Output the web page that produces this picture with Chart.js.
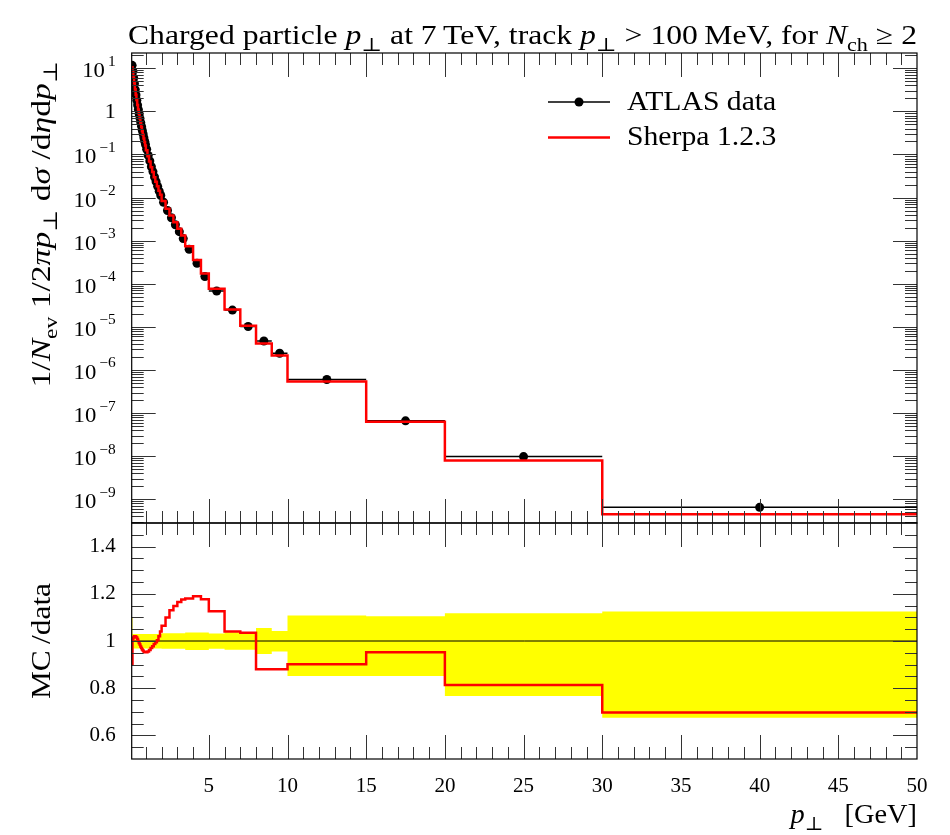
<!DOCTYPE html>
<html><head><meta charset="utf-8">
<script src="https://cdn.jsdelivr.net/npm/chart.js@4.4.0/dist/chart.umd.min.js"></script>
<style>
html,body{margin:0;padding:0;background:#fff;}
#wrap{position:relative;width:950px;height:835px;}
canvas{position:absolute;left:0;top:0;}
</style></head><body>
<div id="wrap"><canvas id="top" width="950" height="835"></canvas><canvas id="ratio" width="950" height="835"></canvas></div>
<script>
// ---------------- data ----------------
const binEdges = [0.10,0.15,0.20,0.25,0.30,0.35,0.40,0.45,0.50,0.55,0.60,0.65,0.70,0.75,0.80,0.85,0.90,0.95,1.00,
  1.1,1.2,1.3,1.4,1.5,1.6,1.7,1.8,1.9,2.0,
  2.25,2.5,2.75,3.0,3.25,3.5,
  4.0,4.5,5.0,
  6,7,8,9,10,
  15,20,30,50];
const atlasData = [11.7,8.5,6.0,4.4,3.2,2.4,1.8,1.4,1.1,0.87,0.69,0.55,0.45,0.36,0.30,0.245,0.204,0.17,
  0.132,0.095,0.071,0.052,0.040,0.030,0.0234,0.0182,0.0141,0.0112,
  7.8e-3,5.0e-3,3.4e-3,2.34e-3,1.62e-3,1.12e-3,
  6.3e-4,3.0e-4,1.48e-4,
  6.8e-5,2.45e-5,1.02e-5,4.7e-6,2.45e-6,
  6.0e-7,6.6e-8,9.8e-9,6.5e-10];
const sherpaRatio = [0.90,1.005,1.015,1.02,1.02,1.018,1.015,1.008,1.0,0.992,0.985,0.977,0.97,0.964,0.96,0.956,0.953,0.952,
  0.952,0.956,0.962,0.97,0.978,0.987,0.995,1.003,1.02,1.04,
  1.065,1.10,1.13,1.148,1.165,1.176,
  1.18,1.19,1.177,
  1.126,1.04,1.035,0.88,0.88,
  0.902,0.952,0.814,0.697];
const bandUp = [1.10,1.03,1.03,1.03,1.03,1.03,1.03,1.03,1.03,1.03,1.03,1.03,1.03,1.03,1.03,1.03,1.03,1.03,
  1.03,1.03,1.03,1.03,1.03,1.03,1.03,1.03,1.03,1.03,
  1.033,1.033,1.033,1.033,1.033,1.033,
  1.036,1.036,1.036,
  1.032,1.037,1.037,1.055,1.042,
  1.108,1.105,1.118,1.125];
const bandDown = [0.90,0.968,0.968,0.968,0.968,0.968,0.968,0.968,0.968,0.968,0.968,0.968,0.968,0.968,0.968,0.968,0.968,0.968,
  0.968,0.968,0.968,0.968,0.968,0.968,0.968,0.968,0.968,0.968,
  0.967,0.967,0.967,0.967,0.967,0.967,
  0.962,0.962,0.962,
  0.967,0.963,0.963,0.945,0.956,
  0.852,0.852,0.767,0.675];
const xTickValues = [5,10,15,20,25,30,35,40,45,50];
const topTickValues = [1e1,1,1e-1,1e-2,1e-3,1e-4,1e-5,1e-6,1e-7,1e-8,1e-9];
const ratioTickValues = [0.6,0.8,1,1.2,1.4];
const labels = {data:'ATLAS data', mc:'Sherpa 1.2.3'};

// ---------------- helpers ----------------
const FAM = "'Liberation Serif','DejaVu Serif',serif";
Chart.defaults.font.family = FAM;
Chart.defaults.color = '#000';

function stepPoints(vals){
  const pts = vals.map((v,i)=>({x:binEdges[i], y:v}));
  pts.push({x:binEdges[binEdges.length-1], y:vals[vals.length-1]});
  return pts;
}
const mcValues = atlasData.map((v,i)=>v*sherpaRatio[i]);
const centers = atlasData.map((v,i)=>({x:(binEdges[i]+binEdges[i+1])/2, y:v}));
const xerr = [];
atlasData.forEach((v,i)=>{xerr.push({x:binEdges[i],y:v},{x:binEdges[i+1],y:v},{x:binEdges[i+1],y:null});});

function richItems(ctx, parts, size){
  let w = 0;
  const items = parts.map(p=>{
    const s = p.sub ? size*0.7 : (p.sup ? size*0.68 : size);
    const font = (p.i?'italic ':'') + s + 'px ' + FAM;
    ctx.font = font;
    const m = ctx.measureText(p.t).width;
    w += m;
    return {t:p.t, font, m, dy: p.sub ? size*0.26 : (p.sup ? -size*0.55 : 0)};
  });
  return {items, w};
}
// draw rich text; sx = horizontal stretch
function drawRich(ctx, parts, x, y, size, align, sx){
  sx = sx || 1;
  const {items, w} = richItems(ctx, parts, size);
  const W = w*sx;
  let x0 = align==='right' ? x-W : (align==='center' ? x-W/2 : x);
  ctx.save(); ctx.translate(x0, y); ctx.scale(sx, 1);
  let cx = 0;
  for (const it of items){ ctx.font = it.font; ctx.fillText(it.t, cx, it.dy); cx += it.m; }
  ctx.restore();
  return W;
}

const xMinor = []; for(let v=1; v<50; v++) xMinor.push(v);
const logTicks = []; for(let e=-10;e<=1;e++){for(let m=1;m<=9;m++){logTicks.push({v:m*Math.pow(10,e), major:m===1});}}
const ratioTicks = []; for(let k=10;k<=30;k++){ratioTicks.push({v:k*0.05, major:k%4===0});}

const frameTicks = {
  id:'frameTicks',
  afterDatasetsDraw(chart, args, opts){
    const {ctx, chartArea:a} = chart;
    const xs = chart.scales.x, ys = chart.scales.y;
    ctx.save();
    ctx.lineWidth = 1; ctx.strokeStyle = '#333';
    const seg=(x1,y1,x2,y2)=>{ctx.beginPath();ctx.moveTo(x1,y1);ctx.lineTo(x2,y2);ctx.stroke();};
    for(const t of xMinor){
      const L = (t%5===0) ? 24 : 12;
      const px = Math.round(xs.getPixelForValue(t))+0.5;
      seg(px,a.top,px,a.top+L); seg(px,a.bottom,px,a.bottom-L);
    }
    for(const t of opts.yTicks){
      const py = ys.getPixelForValue(t.v);
      if(py < a.top+1 || py > a.bottom-1) continue;
      const p = Math.round(py)+0.5, L = t.major ? 24 : 12;
      seg(a.left,p,a.left+L,p); seg(a.right,p,a.right-L,p);
    }
    ctx.strokeStyle='#000'; ctx.lineWidth=1.2;
    ctx.strokeRect(a.left,a.top,a.right-a.left,a.bottom-a.top);
    ctx.restore();
  }
};

// y tick labels of the log axis with real superscripts, at the scale's tick positions
const logLabels = {
  id:'logLabels',
  afterDraw(chart){
    const ctx = chart.ctx, ys = chart.scales.y, a = chart.chartArea;
    ctx.save(); ctx.fillStyle='#000'; ctx.textBaseline='alphabetic';
    for (const t of ys.ticks){
      const py = ys.getPixelForValue(t.value);
      const e = Math.round(Math.log10(t.value));
      const xr = a.left - 16;
      if (e === 0){ drawRich(ctx,[{t:'1'}],xr,py+7,21,'right',1.05); }
      else {
        const ex = (e<0?'\u2212':'') + Math.abs(e);
        drawRich(ctx,[{t:'10'},{t:'\u2009'+ex,sup:1}],xr,py+9,21,'right',1.08);
      }
    }
    ctx.restore();
  }
};

const topText = {
  id:'topText',
  afterDraw(chart){
    const ctx = chart.ctx, a = chart.chartArea;
    ctx.save(); ctx.fillStyle='#000'; ctx.textBaseline='alphabetic';
    // title
    const title = [{t:'Charged particle '},{t:'p',i:1},{t:'\u22A5',sub:1},{t:' at 7\u2009TeV, track '},{t:'p',i:1},{t:'\u22A5',sub:1},{t:' > 100\u2009MeV, for '},{t:'N',i:1},{t:'ch',sub:1},{t:' \u2265 2'}];
    const tw = richItems(ctx,title,27).w;
    drawRich(ctx,title,a.right,44,27,'right',Math.min(1.2,789/tw));
    // y label
    const yl = [{t:'1/'},{t:'N',i:1},{t:'ev',sub:1},{t:' 1/2'},{t:'\u03C0',i:1},{t:'p',i:1},{t:'\u22A5',sub:1},{t:' d'},{t:'\u03C3',i:1},{t:' /d'},{t:'\u03B7',i:1},{t:'d'},{t:'p',i:1},{t:'\u22A5',sub:1}];
    const yw = richItems(ctx,yl,28).w;
    ctx.save(); ctx.translate(50,61); ctx.rotate(-Math.PI/2); drawRich(ctx,yl,0,0,28,'right',Math.min(1.2,336/yw)); ctx.restore();
    // legend
    const ds = chart.data.datasets;
    ctx.lineWidth=1.5; ctx.strokeStyle='#000';
    ctx.beginPath(); ctx.moveTo(548,102); ctx.lineTo(610,102); ctx.stroke();
    ctx.beginPath(); ctx.arc(579,102,4.5,0,Math.PI*2); ctx.fill();
    ctx.lineWidth=2.5; ctx.strokeStyle='#ff0000';
    ctx.beginPath(); ctx.moveTo(548,137.5); ctx.lineTo(610,137.5); ctx.stroke();
    drawRich(ctx,[{t:ds[1].label}],627,110,27,'left',1.1);
    drawRich(ctx,[{t:ds[0].label}],627,145,27,'left',1.1);
    ctx.restore();
  }
};
const ratioText = {
  id:'ratioText',
  afterDraw(chart){
    const ctx = chart.ctx, a = chart.chartArea;
    ctx.save(); ctx.fillStyle='#000'; ctx.textBaseline='alphabetic';
    ctx.save(); ctx.translate(50,(a.top+a.bottom)/2); ctx.rotate(-Math.PI/2);
    drawRich(ctx,[{t:'MC\u2009/data'}],0,0,28,'center',1.12); ctx.restore();
    drawRich(ctx,[{t:'p',i:1},{t:'\u22A5',sub:1},{t:'   [GeV]'}],a.right,823,27,'right',1.05);
    ctx.restore();
  }
};

// ---------------- top chart ----------------
new Chart(document.getElementById('top'), {
  type:'line',
  data:{datasets:[
    {label:labels.mc, data:stepPoints(mcValues), stepped:'before', borderColor:'#ff0000', borderWidth:2.5, pointRadius:0, fill:false, order:0},
    {label:labels.data, data:centers, showLine:false, pointRadius:4.5, pointBackgroundColor:'#000', pointBorderColor:'#000', pointBorderWidth:0, order:1},
    {label:labels.data+' (bin width)', data:xerr, borderColor:'#000', borderWidth:1.5, pointRadius:0, spanGaps:false, fill:false, order:2}
  ]},
  options:{
    responsive:false, animation:false, devicePixelRatio:1,
    layout:{padding:{left:31.7,right:33,top:53,bottom:312}},
    plugins:{legend:{display:false}, title:{display:false}, tooltip:{enabled:false}, frameTicks:{yTicks:logTicks}},
    scales:{
      x:{type:'linear', min:0.1, max:50, grid:{display:false, drawTicks:false}, border:{display:false}, ticks:{display:false},
         afterFit(s){s.height=0;}},
      y:{type:'logarithmic', min:2.82e-10, max:22.6, grid:{display:false, drawTicks:false}, border:{display:false},
         afterBuildTicks(s){s.ticks = topTickValues.map(v=>({value:v}));},
         ticks:{display:false},
         afterFit(s){s.width=100;}}
    }
  },
  plugins:[frameTicks, logLabels, topText]
});

// ---------------- ratio chart ----------------
new Chart(document.getElementById('ratio'), {
  type:'line',
  data:{datasets:[
    {label:labels.mc+' / data', data:stepPoints(sherpaRatio), stepped:'before', borderColor:'#ff0000', borderWidth:2.5, pointRadius:0, fill:false, order:0},
    {label:'unity', data:[{x:0.1,y:1},{x:50,y:1}], borderColor:'#000', borderWidth:1, pointRadius:0, fill:false, order:1},
    {label:'data uncertainty up', data:stepPoints(bandUp), stepped:'before', borderWidth:0, borderColor:'rgba(0,0,0,0)', pointRadius:0, fill:false, order:3},
    {label:'data uncertainty', data:stepPoints(bandDown), stepped:'before', borderWidth:0, borderColor:'rgba(0,0,0,0)', backgroundColor:'#ffff00', pointRadius:0, fill:'-1', order:2}
  ]},
  options:{
    responsive:false, animation:false, devicePixelRatio:1,
    layout:{padding:{left:31.7,right:33,top:523,bottom:26}},
    plugins:{legend:{display:false}, title:{display:false}, tooltip:{enabled:false}, filler:{propagate:false}, frameTicks:{yTicks:ratioTicks}},
    scales:{
      x:{type:'linear', min:0.1, max:50, grid:{display:false, drawTicks:false}, border:{display:false},
         afterBuildTicks(s){s.ticks = xTickValues.map(v=>({value:v}));},
         ticks:{padding:15, font:{size:21}, color:'#000', autoSkip:false, maxRotation:0, callback:(v)=>String(v)},
         afterFit(s){s.height=50;}},
      y:{type:'linear', min:0.5, max:1.5, grid:{display:false, drawTicks:false}, border:{display:false},
         afterBuildTicks(s){s.ticks = ratioTickValues.map(v=>({value:v}));},
         ticks:{padding:16, font:{size:21}, color:'#000', autoSkip:false, callback:(v)=>(v===1?'1':v.toFixed(1))},
         afterFit(s){s.width=100;}}
    }
  },
  plugins:[frameTicks, ratioText]
});
</script>
</body></html>
